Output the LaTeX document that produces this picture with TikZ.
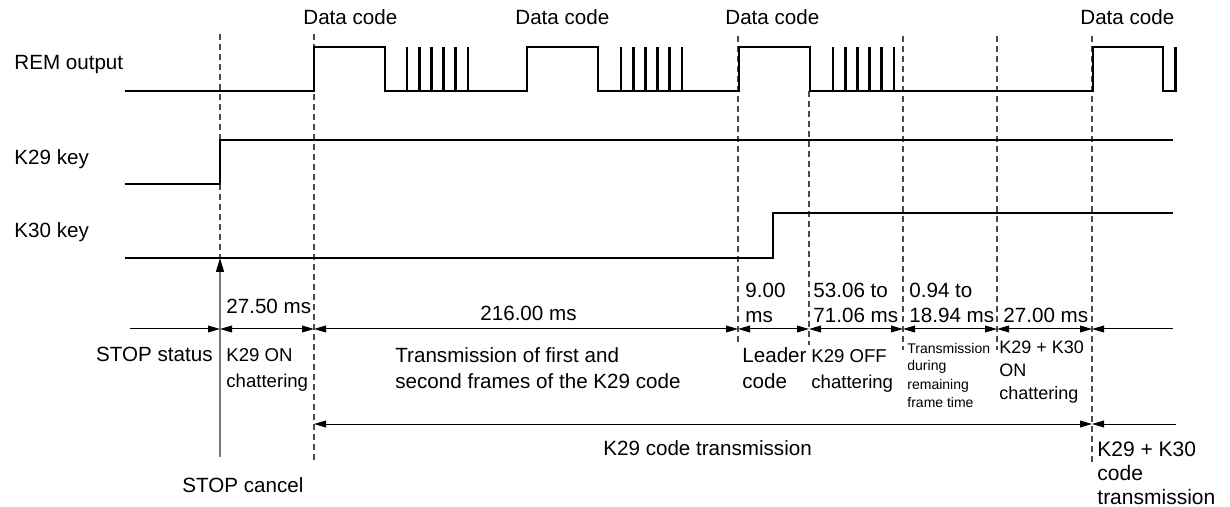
\documentclass[tikz,border=0pt]{standalone}
\usepackage{fontspec}
\setmainfont{Liberation Sans}
\usetikzlibrary{arrows.meta}
\tikzset{
  sig/.style={line width=1.4pt, line join=miter, line cap=butt},
  guide/.style={line width=0.55pt, draw={rgb,255:red,75;green,75;blue,75}, dash pattern=on 3pt off 2pt},
  dim/.style={line width=0.5pt},
  lbl/.style={inner sep=0pt, anchor=base west, align=left, font=\fontsize{10.3}{12.75}\selectfont},
  nlbl/.style={inner sep=0pt, anchor=base west, align=left, font=\fontsize{9.3}{12.75}\selectfont},
  klbl/.style={inner sep=0pt, anchor=base west, align=left, font=\fontsize{9.0}{11.25}\selectfont},
  slbl/.style={inner sep=0pt, anchor=base west, align=left, font=\fontsize{7}{9}\selectfont},
  blbl/.style={inner sep=0pt, anchor=base west, align=left, font=\fontsize{10.5}{12}\selectfont},
}
\begin{document}
\begin{tikzpicture}[x=0.5pt, y=-0.5pt, >={Triangle[length=6pt,width=3.4pt]}]
\useasboundingbox (0,0) rectangle (1230,507);

% guide lines
\draw[guide] (220,34) -- (220,258);
\draw[guide] (314,34) -- (314,462);
\draw[guide] (738,36) -- (738,345);
\draw[guide] (809,91) -- (809,345);
\draw[guide] (903,36) -- (903,350);
\draw[guide] (997,36) -- (997,350);
\draw[guide] (1092,36) -- (1092,463);

% row labels
\node[lbl] (lrem) at (14,70) {REM output};
\node[lbl] (lk29) at (14,165) {K29 key};
\node[lbl] (lk30) at (14,238) {K30 key};

% data code labels
\node[lbl] (dc1) at (303,25) {Data code};
\node[lbl] (dc2) at (515,25) {Data code};
\node[lbl] (dc3) at (725,25) {Data code};
\node[lbl] (dc4) at (1080,25) {Data code};

% REM output waveform
\draw[sig] (125,91) -- (314,91) -- (314,47) -- (385,47) -- (385,91)
  -- (527,91) -- (527,47) -- (598,47) -- (598,91)
  -- (739,91) -- (739,47) -- (810,47) -- (810,91)
  -- (1093,91) -- (1093,47) -- (1163,47) -- (1163,91) -- (1177,91);
\foreach \s in {407,419.2,431.4,443.6,455.8,468,
                621,633.2,645.4,657.6,669.8,682,
                833,845.2,857.4,869.6,881.8,894,1175.5}
  \draw[sig] (\s,91) -- (\s,47);

% K29 key
\draw[sig] (125,184) -- (220,184) -- (220,140) -- (1173,140);
% K30 key
\draw[sig] (125,258) -- (773,258) -- (773,213) -- (1173,213);

% STOP cancel arrow
\coordinate (stopbase) at (220,457);
\coordinate (stoptip) at (220,258);
\draw[line width=0.7pt, draw={rgb,255:red,120;green,120;blue,120}, -{Triangle[length=7pt,width=4pt,color=black]}] (stopbase) -- (stoptip);

% dimension row 1
\coordinate (d0) at (130,329);
\coordinate (d1) at (220,329);
\coordinate (d2) at (314,329);
\coordinate (d3) at (738,329);
\coordinate (d4) at (809,329);
\coordinate (d5) at (903,329);
\coordinate (d6) at (997,329);
\coordinate (d7) at (1092,329);
\coordinate (d8) at (1173,329);
\draw[dim,->] (d0) -- (d1);
\draw[dim,<->] (d1) -- (d2);
\draw[dim,<->] (d2) -- (d3);
\draw[dim,<->] (d3) -- (d4);
\draw[dim,<->] (d4) -- (d5);
\draw[dim,<->] (d5) -- (d6);
\draw[dim,<->] (d6) -- (d7);
\draw[dim,<-] (d7) -- (d8);

% dimension row 2
\coordinate (e2) at (314,424);
\coordinate (e7) at (1092,424);
\coordinate (e8) at (1176,424);
\draw[dim,<->] (e2) -- (e7);
\draw[dim,<-] (e7) -- (e8);

% durations (anchor = baseline of last line)
\node[lbl] (t1) at (226,314) {27.50 ms};
\node[lbl] (t2) at (480,321) {216.00 ms};
\node[lbl] (t3) at (745,323) {9.00\\ms};
\node[lbl] (t4) at (813,323) {53.06 to\\71.06 ms};
\node[lbl] (t5) at (909,323) {0.94 to\\18.94 ms};
\node[lbl] (t6) at (1003,323) {27.00 ms};

% phase descriptions
\node[lbl, anchor=base east] (p0) at (213,361) {STOP status};
\node[nlbl] (p1) at (226,387) {K29 ON\\chattering};
\node[lbl] (p2) at (395,388) {Transmission of first and\\second frames of the K29 code};
\node[lbl] (p3) at (742,388) {Leader\\code};
\node[nlbl] (p4) at (811,388) {K29 OFF\\chattering};
\node[slbl] (p5) at (907,407) {Transmission\\during\\remaining\\frame time};
\node[klbl] (p6) at (999,399) {K29 + K30\\ON\\chattering};

% bottom labels
\node[lbl] (b1) at (603,455) {K29 code transmission};
\node[blbl] (b2) at (1097,504) {K29 + K30\\code\\transmission};
\node[lbl] (b3) at (182,492) {STOP cancel};
\end{tikzpicture}
\end{document}
